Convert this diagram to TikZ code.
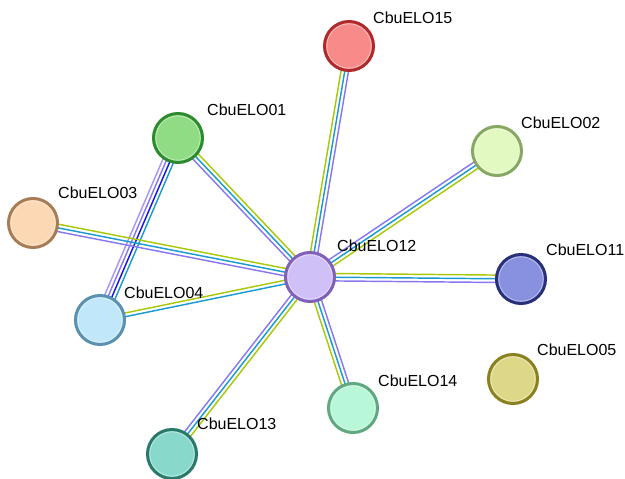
\documentclass[tikz,border=0pt]{standalone}
\usepackage{fontspec}
\setmainfont{Liberation Sans}
\usetikzlibrary{calc}
\pgfdeclarelayer{background}
\pgfsetlayers{background,main}
\definecolor{tm}{HTML}{A8C80A}
\definecolor{db}{HTML}{1A9BD0}
\definecolor{hom}{HTML}{8878F0}
\definecolor{lhom}{HTML}{A898F6}
\definecolor{co}{HTML}{1515E8}
\tikzset{
  enode/.style={circle, line width=3pt, minimum size=49pt, inner sep=0pt,
    path picture={\draw[white, opacity=0.45, line width=1pt] (path picture bounding box.center) circle (22.3pt);}},
  elabel/.style={anchor=base west, inner sep=0pt, font=\fontsize{16}{18}\selectfont},
  eline/.style={line width=1.45pt}
}
\newcommand\stredge[4]{%
  \foreach \c [count=\i] in {#4}{%
    \pgfmathsetmacro\off{((#3+1)/2-\i)*3.7}%
    \draw[eline,\c] ($(#1.center)!\off pt!90:(#2.center)$) -- ($(#2.center)!\off pt!-90:(#1.center)$);
  }%
}
\begin{document}
\begin{tikzpicture}[x=1pt,y=-1pt]
\useasboundingbox (0,0) rectangle (625,479);
\node[enode, fill={rgb,255:red,248;green,138;blue,138}, draw={rgb,255:red,176;green,42;blue,42}] (e15) at (349,46) {};
\node[enode, fill={rgb,255:red,143;green,220;blue,133}, draw={rgb,255:red,45;green,138;blue,45}] (e01) at (178,138) {};
\node[enode, fill={rgb,255:red,226;green,249;blue,194}, draw={rgb,255:red,134;green,168;blue,96}] (e02) at (497,151) {};
\node[enode, fill={rgb,255:red,253;green,216;blue,180}, draw={rgb,255:red,168;green,125;blue,85}] (e03) at (33,223) {};
\node[enode, fill={rgb,255:red,208;green,192;blue,248}, draw={rgb,255:red,128;green,96;blue,184}] (e12) at (310,277) {};
\node[enode, fill={rgb,255:red,136;green,144;blue,224}, draw={rgb,255:red,40;green,48;blue,122}] (e11) at (521,279) {};
\node[enode, fill={rgb,255:red,192;green,232;blue,250}, draw={rgb,255:red,90;green,144;blue,176}] (e04) at (100,320) {};
\node[enode, fill={rgb,255:red,220;green,216;blue,136}, draw={rgb,255:red,138;green,128;blue,32}] (e05) at (513,379) {};
\node[enode, fill={rgb,255:red,184;green,248;blue,216}, draw={rgb,255:red,96;green,168;blue,128}] (e14) at (353,408) {};
\node[enode, fill={rgb,255:red,136;green,216;blue,204}, draw={rgb,255:red,42;green,122;blue,106}] (e13) at (172,454) {};
\node[elabel] (l15) at (373,23.7) {CbuELO15};
\node[elabel] (l01) at (207,115.7) {CbuELO01};
\node[elabel] (l02) at (521,128.7) {CbuELO02};
\node[elabel] (l03) at (58,198.7) {CbuELO03};
\node[elabel] (l12) at (337,251.7) {CbuELO12};
\node[elabel] (l11) at (546,255.7) {CbuELO11};
\node[elabel] (l04) at (124,298.7) {CbuELO04};
\node[elabel] (l05) at (537,355.7) {CbuELO05};
\node[elabel] (l14) at (378,386.7) {CbuELO14};
\node[elabel] (l13) at (197,429.7) {CbuELO13};
\begin{pgfonlayer}{background}
\stredge{e12}{e15}{3}{tm,db,hom}
\stredge{e12}{e01}{3}{hom,db,tm}
\stredge{e01}{e04}{4}{db,co,hom,lhom}
\stredge{e03}{e12}{3}{tm,db,hom}
\stredge{e04}{e12}{2}{tm,db}
\stredge{e12}{e02}{3}{hom,db,tm}
\stredge{e12}{e11}{3}{tm,db,hom}
\stredge{e12}{e14}{3}{hom,db,tm}
\stredge{e12}{e13}{3}{tm,db,hom}
\end{pgfonlayer}
\end{tikzpicture}
\end{document}
